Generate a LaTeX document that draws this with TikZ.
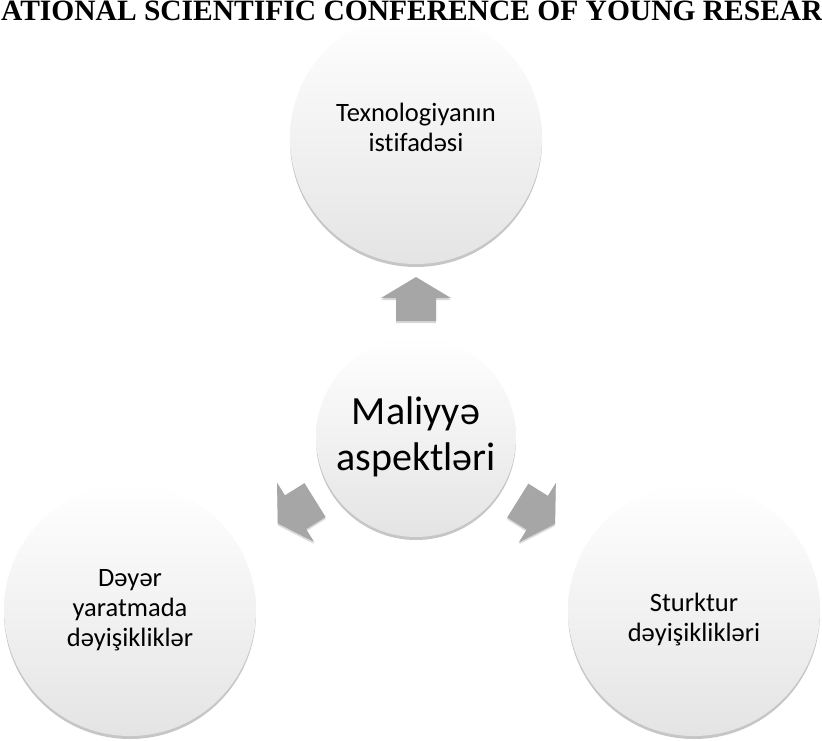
\documentclass[tikz,border=0pt]{standalone}
\usepackage{fontspec}
\setmainfont{Carlito}[Ligatures=NoCommon]
\newfontfamily\headfont{Liberation Serif}
\usetikzlibrary{shadows}
\definecolor{arrowgrey}{HTML}{A6A6A6}
\definecolor{rimgrey}{HTML}{E4E4E4}

\begin{document}
\begin{tikzpicture}[x=1pt, y=1pt,
  bubble/.style={circle, draw=none, top color=white, bottom color=rimgrey, inner sep=0pt, align=center,
    drop shadow={opacity=0.45, shadow xshift=0pt, shadow yshift=-3pt}, font=\fontsize{26.5}{30}\selectfont},
  hub/.style={bubble, minimum size=200pt, font=\fontsize{40}{46}\selectfont},
  outer/.style={bubble, minimum size=252pt},
  caption/.style={align=center, inner sep=0pt, font=\fontsize{26.5}{30}\selectfont},
  blockarrow/.pic={\fill[arrowgrey, drop shadow={opacity=0.3, shadow xshift=0pt, shadow yshift=-2pt}]
    (22,0) -- (1,35) -- (1,20) -- (-22,20) -- (-22,-20) -- (1,-20) -- (1,-35) -- cycle;},
]
\useasboundingbox (0,0) rectangle (822,-740);

% Centre circle
\node[hub] (mal) at (416,-437) {Maliyyə\\aspektləri};

% Outer circles
\node[outer] (tex) at (416,-138) {};
\node[caption] (texL) at ([yshift=11]tex.center) {Texnologiyanın\\istifadəsi};
\node[outer] (day) at (130,-610) {Dəyər\\yaratmada\\dəyişikliklər};
\node[outer] (str) at (694,-610) {};
\node[caption] (strL) at ([yshift=-10]str.center) {Sturktur\\dəyişiklikləri};

% Block arrows between centre and outer circles
\path (mal.center) ++(90:138) coordinate (aTex);
\path (mal.center) ++(212:141) coordinate (aDay);
\path (mal.center) ++(328:142) coordinate (aStr);
\pic[rotate=90] at (aTex) {blockarrow};
\pic[rotate=212] at (aDay) {blockarrow};
\pic[rotate=328] at (aStr) {blockarrow};

% Running head (cut by the page)
\node[anchor=base west, inner sep=0pt, font=\headfont\bfseries\fontsize{29.5}{29.5}\selectfont] (head) at (1,-20)
  {ATIONAL SCIENTIFIC CONFERENCE OF YOUNG RESEAR};
\end{tikzpicture}
\end{document}
